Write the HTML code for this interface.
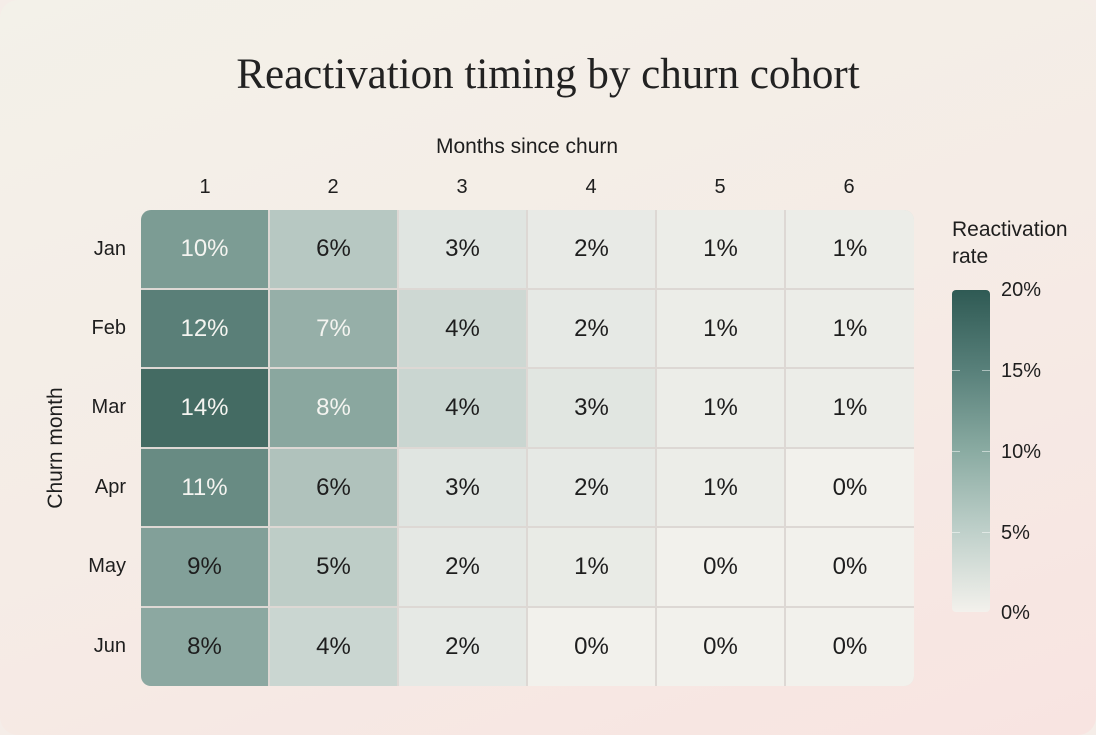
<!DOCTYPE html>
<html><head><meta charset="utf-8"><style>
html,body{margin:0;padding:0}
body{width:1096px;height:735px;overflow:hidden;background:#f5ede8;font-family:"Liberation Sans",sans-serif;}
.card{position:absolute;left:0;top:0;width:1096px;height:735px;border-radius:18px;background:linear-gradient(160deg,#f3f1e9 0%,#f5ece6 50%,#f8e4e1 100%);}
.t{position:absolute;white-space:nowrap;color:#1e1e1e}
.title{left:0;width:1096px;text-align:center;top:50px;font-family:"Liberation Serif",serif;font-size:43px;color:#222}
.grid{position:absolute;left:141px;top:210px;width:773px;height:476px;border-radius:10px;overflow:hidden;background:#ddd8d4}
.cell{position:absolute;display:flex;align-items:center;justify-content:center;font-size:24px}
.cb{position:absolute;left:952px;top:290px;width:38px;height:322px;border-radius:4px;background:linear-gradient(to bottom,#2f5a54 0%,#58807a 25%,#8aaba2 50%,#bfd0ca 75%,#f3f1ec 100%)}
.tk{position:absolute;left:952px;width:38px;height:1px;background:linear-gradient(to right,rgba(255,255,255,.5) 0 8px,transparent 8px 30px,rgba(255,255,255,.5) 30px)}
</style></head><body><div class="card"></div>
<div class="t title">Reactivation timing by churn cohort</div>
<div class="t" style="left:0;width:1054px;text-align:center;top:135px;font-size:21px">Months since churn</div>
<div class="t" style="top:448px;font-size:21px;transform:translate(-50%,-50%) rotate(-90deg);transform-origin:center;left:56px">Churn month</div>
<div class="grid" id="g"></div>
<div class="t" style="left:952px;top:216px;font-size:21px;line-height:27px">Reactivation<br>rate</div>
<div class="cb"></div>
<div class="tk" style="top:370px"></div><div class="tk" style="top:451px"></div><div class="tk" style="top:532px"></div>
<div class="t" style="left:1001px;top:279px;font-size:20px">20%</div>
<div class="t" style="left:1001px;top:360px;font-size:20px">15%</div>
<div class="t" style="left:1001px;top:441px;font-size:20px">10%</div>
<div class="t" style="left:1001px;top:522px;font-size:20px">5%</div>
<div class="t" style="left:1001px;top:602px;font-size:20px">0%</div>
<script>
var xs=[141,269,398,527,656,785,914],ys=[210,289,368,448,527,607,686];
var rows=["Jan","Feb","Mar","Apr","May","Jun"];
var v=[[10,6,3,2,1,1],[12,7,4,2,1,1],[14,8,4,3,1,1],[11,6,3,2,1,0],[9,5,2,1,0,0],[8,4,2,0,0,0]];
var vv=[[9.6,5.5,2.6,1.6,1,1],[12.3,7.8,4,1.8,1,1],[14.2,8.6,4.2,2.5,1,1],[11.2,6,2.6,1.8,1,0.3],[9.2,5,2,1.4,0.3,0.3],[8.5,4.2,1.8,0.3,0.3,0.3]];
var stops=[[0,[244,242,237]],[3,[221,227,223]],[5,[190,205,199]],[10,[118,152,144]],[15,[58,98,91]],[20,[47,90,84]]];
function col(x){for(var i=0;i<stops.length-1;i++){var a=stops[i],b=stops[i+1];if(x<=b[0]){var f=(x-a[0])/(b[0]-a[0]);return 'rgb('+a[1].map(function(c,k){return Math.round(c+(b[1][k]-c)*f)}).join(',')+')'}}return 'rgb(47,90,84)'}
var g=document.getElementById('g'),h='';
for(var r=0;r<6;r++){for(var c=0;c<6;c++){var x=xs[c]-141+(c?1:0),y=ys[r]-210+(r?1:0),w=xs[c+1]-xs[c]-(c?1:0)-(c<5?1:0),hh=ys[r+1]-ys[r]-(r?1:0)-(r<5?1:0);
var white=(v[r][c]>=7&&!(r>=4&&c==0))||(r==3&&c==0);
h+='<div class="cell" style="left:'+x+'px;top:'+y+'px;width:'+w+'px;height:'+hh+'px;background:'+col(vv[r][c])+';color:'+(white?'#f4f4f0':'#1e1e1e')+'">'+v[r][c]+'%</div>';}}
g.innerHTML=h;
var b='';for(var c=0;c<6;c++)b+='<div class="t" style="left:'+(xs[c]+64-10)+'px;width:20px;text-align:center;top:176px;font-size:20px">'+(c+1)+'</div>';
for(var r=0;r<6;r++)b+='<div class="t" style="left:60px;width:66px;text-align:right;top:'+((ys[r]+ys[r+1])/2-12)+'px;font-size:20px">'+rows[r]+'</div>';
document.body.insertAdjacentHTML('beforeend',b);
</script>
</body></html>
